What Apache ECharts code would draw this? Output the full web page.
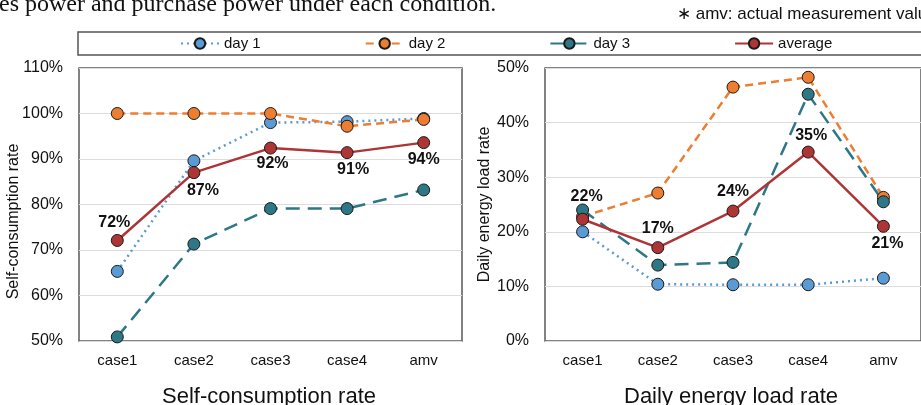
<!DOCTYPE html>
<html lang="en">

<head>
    <meta charset="UTF-8">
    <script src="https://cdn.jsdelivr.net/npm/echarts@6/dist/echarts.min.js"></script>
    <title>Self-consumption / daily energy load</title>
    <style>
        * {
            margin: 0;
            padding: 0;
        }

        body {
            background: #fff;
        }

        #main {
            width: 921px;
            height: 405px;
        }
    </style>
</head>

<body>
    <div id="main"></div>
    <script>
        // categories
        var cases = ['case1', 'case2', 'case3', 'case4', 'amv'];

        // self-consumption rate (%)
        var selfDay1 = [65.3, 89.6, 98.0, 98.2, 98.9];
        var selfDay2 = [100, 100, 100, 97.2, 98.7];
        var selfDay3 = [50.9, 71.3, 79.1, 79.1, 83.2];
        var selfAvg = [72.1, 87.0, 92.4, 91.4, 93.6];

        // daily energy load rate (%)
        var loadDay1 = [20.0, 10.4, 10.3, 10.3, 11.5];
        var loadDay2 = [22.8, 27.1, 46.5, 48.3, 26.3];
        var loadDay3 = [24.0, 13.9, 14.4, 45.2, 25.5];
        var loadAvg = [22.3, 17.1, 23.8, 34.6, 21.0];

        var seriesNames = ['day 1', 'day 2', 'day 3', 'average'];
        var colors = ['#5B9BD5', '#ED7D31', '#2E7787', '#AE3536'];
        var dashes = [[2, 4], [8, 5], [14, 8], 'solid'];

        // where the average labels sit
        var leftLabelPos = ['top', 'bottom', 'bottom', 'bottom', 'bottom'];
        var leftLabelOff = [[-3, 2], [9, -2], [2, -4], [6, -3], [0, -3]];
        var rightLabelPos = ['top', 'top', 'top', 'top', 'bottom'];
        var rightLabelOff = [[4, -3], [0, 0], [0, 0], [3, 3], [4, -2]];

        var chart = echarts.init(document.getElementById('main'));

        function makeSeries(name, idx, values, gridIdx, labelPos, labelOff) {
            var s = {
                name: name,
                type: 'line',
                xAxisIndex: gridIdx,
                yAxisIndex: gridIdx,
                symbol: 'circle',
                symbolSize: 12,
                lineStyle: { color: colors[idx], width: 2.5, type: dashes[idx] },
                itemStyle: { color: colors[idx], borderColor: '#1a1a1a', borderWidth: 1 },
                animation: false,
                data: values
            };
            if (labelPos) {
                s.data = values.map(function (v, i) {
                    return {
                        value: v,
                        label: { position: labelPos[i], offset: labelOff[i] }
                    };
                });
                s.label = {
                    show: true,
                    fontFamily: 'Liberation Sans',
                    fontWeight: 'bold',
                    fontSize: 16,
                    color: '#111',
                    formatter: function (p) { return Math.round(p.value) + '%'; }
                };
            }
            if (idx === 0) {
                s.markArea = {
                    silent: true,
                    itemStyle: { color: 'rgba(0,0,0,0.06)' },
                    data: [[{ xAxis: 'amv' }, { xAxis: 'amv' }]]
                };
            }
            return s;
        }

        function xAxisFor(gridIdx) {
            return {
                type: 'category',
                gridIndex: gridIdx,
                data: cases,
                axisLine: { show: false },
                axisTick: { show: false },
                axisLabel: { margin: 12, fontSize: 15, color: '#111', fontFamily: 'Liberation Sans' }
            };
        }

        function yAxisFor(gridIdx, name, min, max, gap) {
            return {
                type: 'value',
                gridIndex: gridIdx,
                min: min,
                max: max,
                interval: 10,
                name: name,
                nameLocation: 'middle',
                nameGap: gap,
                nameMoveOverlap: false,
                nameTextStyle: {
                    fontSize: 16, color: '#111', fontFamily: 'Liberation Sans',
                    padding: gridIdx === 0 ? [0, 34, 0, 0] : 0
                },
                axisLine: { show: false },
                axisTick: { show: false },
                axisLabel: { margin: 16, fontSize: 16, color: '#111', fontFamily: 'Liberation Sans', formatter: '{value}%' },
                splitLine: { lineStyle: { color: '#dcdcdc', width: 1 } }
            };
        }

        var series = [
            makeSeries('day 1', 0, selfDay1, 0),
            makeSeries('day 2', 1, selfDay2, 0),
            makeSeries('day 3', 2, selfDay3, 0),
            makeSeries('average', 3, selfAvg, 0, leftLabelPos, leftLabelOff),
            makeSeries('day 1', 0, loadDay1, 1),
            makeSeries('day 2', 1, loadDay2, 1),
            makeSeries('day 3', 2, loadDay3, 1),
            makeSeries('average', 3, loadAvg, 1, rightLabelPos, rightLabelOff)
        ];

        var option = {
            backgroundColor: '#fff',
            textStyle: { fontFamily: 'Liberation Sans' },
            title: [
                {
                    text: 'Self-consumption rate',
                    left: 264,
                    top: 381,
                    textAlign: 'center',
                    textStyle: { fontSize: 22, fontWeight: 'normal', color: '#111', fontFamily: 'Liberation Sans' }
                },
                {
                    text: 'Daily energy load rate',
                    left: 726,
                    top: 381,
                    textAlign: 'center',
                    textStyle: { fontSize: 22, fontWeight: 'normal', color: '#111', fontFamily: 'Liberation Sans' }
                }
            ],
            legend: {
                data: seriesNames,
                left: 175,
                top: 31,
                itemWidth: 38,
                itemHeight: 13,
                itemGap: 104,
                textStyle: { fontSize: 15, color: '#111', fontFamily: 'Liberation Sans' }
            },
            graphic: [
                {
                    type: 'text',
                    left: -1,
                    top: -7,
                    style: { text: 'es power and purchase power under each condition.', font: '24px "Liberation Serif"', fill: '#111' }
                },
                {
                    type: 'text',
                    left: 677,
                    top: 6,
                    style: { text: '\u2217 amv: actual measurement value', font: '17px "Liberation Sans"', fill: '#111' }
                },
                {
                    type: 'rect',
                    shape: { x: 78, y: 32, width: 860, height: 23 },
                    style: { fill: 'none', stroke: '#555', lineWidth: 1.5 },
                    silent: true
                }
            ],
            grid: [
                { left: 79, top: 68, width: 383, height: 273, show: true, borderColor: '#595959', borderWidth: 1.5, backgroundColor: 'transparent' },
                { left: 545, top: 68, width: 385, height: 273, show: true, borderColor: '#595959', borderWidth: 1.5, backgroundColor: 'transparent' }
            ],
            xAxis: [xAxisFor(0), xAxisFor(1)],
            yAxis: [
                yAxisFor(0, 'Self-consumption rate', 50, 110, 57),
                yAxisFor(1, 'Daily energy load rate', 0, 50, 52)
            ],
            series: series
        };

        chart.setOption(option);
    </script>
</body>

</html>
